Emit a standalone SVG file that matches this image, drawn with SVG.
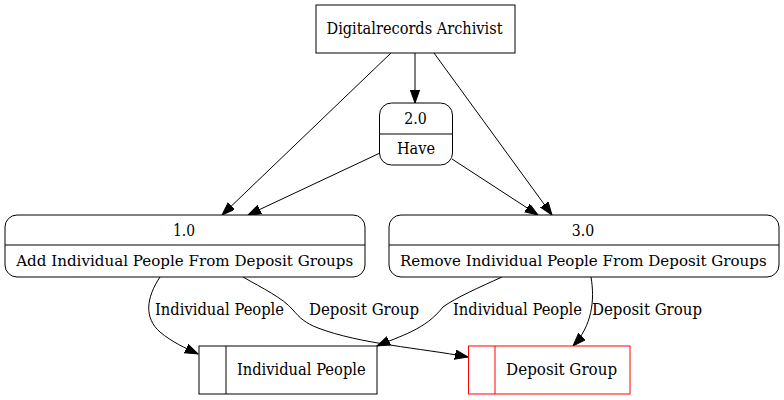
<svg xmlns="http://www.w3.org/2000/svg" width="784" height="400" viewBox="0 0 784 400">
<defs>
<style>
text{font-family:'DejaVu Serif','Noto Serif',serif;font-size:16px;fill:#000;text-anchor:middle}
.long{font-size:15px}
.n{fill:#fff;stroke:#000;stroke-width:1}
.e{fill:none;stroke:#000;stroke-width:1}
.red{fill:#fff;stroke:#ff0000;stroke-width:1}
.redl{stroke:#ff0000;stroke-width:1}
.l{stroke:#000;stroke-width:1}
.lbl{text-anchor:start}
</style>
<marker id="ah" markerUnits="userSpaceOnUse" markerWidth="15" markerHeight="11" refX="13" refY="4.65" orient="auto">
<path d="M0,0 L13,4.65 L0,9.3 Z" fill="#000" stroke="#000"/>
</marker>
</defs>
<rect width="784" height="400" fill="#fff"/>
<g id="connectors">
<path class="e" marker-end="url(#ah)" d="M415,53 L415,103"/>
<path class="e" marker-end="url(#ah)" d="M391,53 L222,215"/>
<path class="e" marker-end="url(#ah)" d="M434,53 L552,215"/>
<path class="e" marker-end="url(#ah)" d="M380,153 L248,215"/>
<path class="e" marker-end="url(#ah)" d="M452,159 L538,215"/>
<path class="e" marker-end="url(#ah)" d="M160,277 C146,298 144,318 160,332 C172,342 185,348 198,354"/>
<path class="e" marker-end="url(#ah)" d="M243,277 C262,288 283,298 293,310 C300,318 305,323 318,328 C360,344 420,348 468,357"/>
<path class="e" marker-end="url(#ah)" d="M502,277 C480,287 455,298 443,307 C425,330 400,336 377,346"/>
<path class="e" marker-end="url(#ah)" d="M591,277 C595,300 592,326 573,346"/>
<text class="lbl" x="155" y="315" textLength="129" lengthAdjust="spacingAndGlyphs">Individual People</text>
<text class="lbl" x="309" y="315" textLength="110" lengthAdjust="spacingAndGlyphs">Deposit Group</text>
<text class="lbl" x="453" y="315" textLength="129" lengthAdjust="spacingAndGlyphs">Individual People</text>
<text class="lbl" x="592" y="315" textLength="110" lengthAdjust="spacingAndGlyphs">Deposit Group</text>
</g>
<g id="archivist">
<rect class="n" x="316" y="5" width="199" height="48"/>
<text x="414.5" y="33.5" textLength="176" lengthAdjust="spacingAndGlyphs">Digitalrecords Archivist</text>
</g>
<g id="p2">
<rect class="n" x="379.5" y="103" width="73" height="62" rx="12" ry="12"/>
<line class="l" x1="379.5" y1="134" x2="452.5" y2="134"/>
<text x="415.5" y="124" textLength="22.5" lengthAdjust="spacingAndGlyphs">2.0</text>
<text x="416" y="153.5" textLength="38" lengthAdjust="spacingAndGlyphs">Have</text>
</g>
<g id="p1">
<rect class="n" x="5" y="215" width="360" height="62" rx="12" ry="12"/>
<line class="l" x1="5" y1="245" x2="365" y2="245"/>
<text x="184" y="236" textLength="22" lengthAdjust="spacingAndGlyphs">1.0</text>
<text class="long" x="184.7" y="265.7" textLength="337" lengthAdjust="spacingAndGlyphs">Add Individual People From Deposit Groups</text>
</g>
<g id="p3">
<rect class="n" x="389" y="215" width="390" height="62" rx="12" ry="12"/>
<line class="l" x1="389" y1="245" x2="779" y2="245"/>
<text x="583" y="236" textLength="22.5" lengthAdjust="spacingAndGlyphs">3.0</text>
<text class="long" x="583.3" y="265.7" textLength="366.7" lengthAdjust="spacingAndGlyphs">Remove Individual People From Deposit Groups</text>
</g>
<g id="store_ip">
<rect class="n" x="199" y="346" width="178" height="48"/>
<line class="l" x1="226" y1="346" x2="226" y2="394"/>
<text x="301.3" y="375" textLength="128.7" lengthAdjust="spacingAndGlyphs">Individual People</text>
</g>
<g id="store_dg">
<rect class="red" x="468.5" y="346" width="161.5" height="48"/>
<line class="redl" x1="495" y1="346" x2="495" y2="394"/>
<text x="561.6" y="375" textLength="111" lengthAdjust="spacingAndGlyphs">Deposit Group</text>
</g>
</svg>
